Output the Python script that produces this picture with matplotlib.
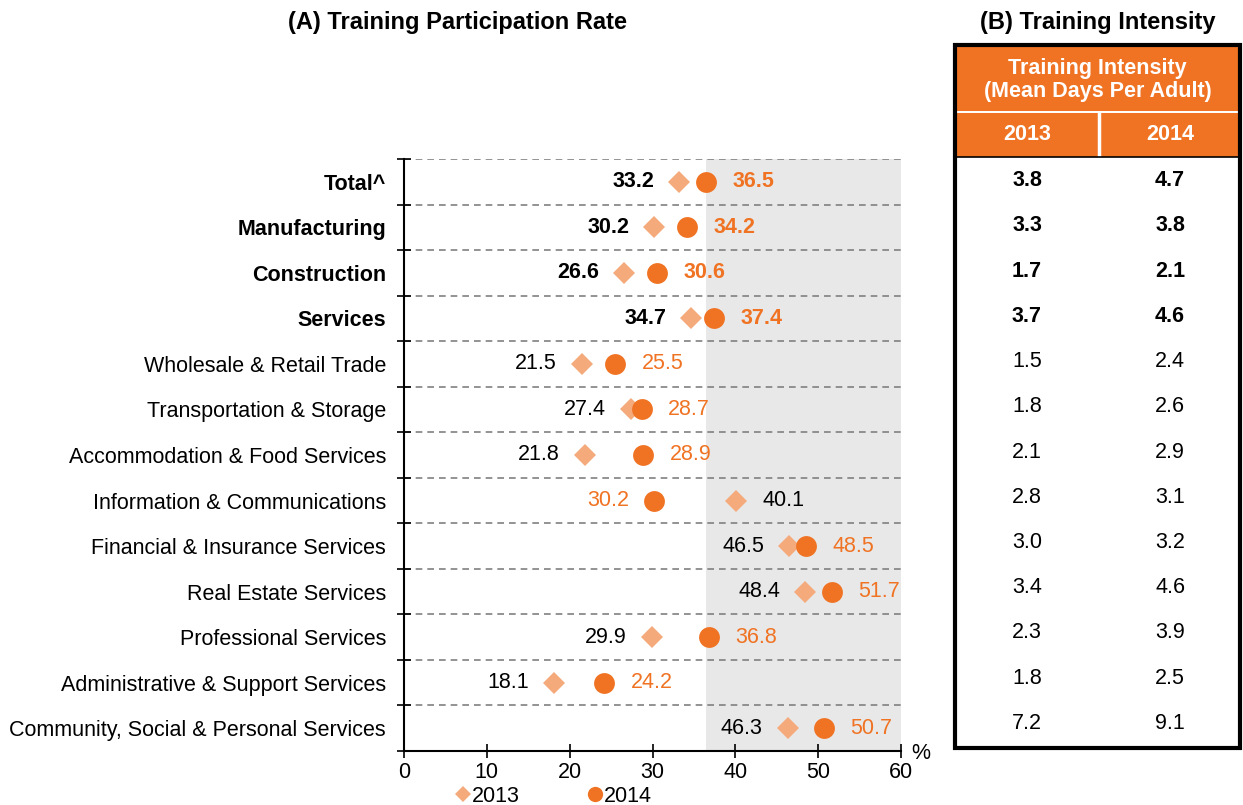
import matplotlib.pyplot as plt
from matplotlib.patches import Rectangle
from matplotlib.lines import Line2D

plt.rcParams['font.family'] = ['Liberation Sans', 'DejaVu Sans']

# ----------------------------
# Data
# ----------------------------
categories = [
    "Total^", "Manufacturing", "Construction", "Services",
    "Wholesale & Retail Trade", "Transportation & Storage",
    "Accommodation & Food Services", "Information & Communications",
    "Financial & Insurance Services", "Real Estate Services",
    "Professional Services", "Administrative & Support Services",
    "Community, Social & Personal Services",
]
rate_2013 = [33.2, 30.2, 26.6, 34.7, 21.5, 27.4, 21.8, 40.1, 46.5, 48.4, 29.9, 18.1, 46.3]
rate_2014 = [36.5, 34.2, 30.6, 37.4, 25.5, 28.7, 28.9, 30.2, 48.5, 51.7, 36.8, 24.2, 50.7]
intensity_2013 = [3.8, 3.3, 1.7, 3.7, 1.5, 1.8, 2.1, 2.8, 3.0, 3.4, 2.3, 1.8, 7.2]
intensity_2014 = [4.7, 3.8, 2.1, 4.6, 2.4, 2.6, 2.9, 3.1, 3.2, 4.6, 3.9, 2.5, 9.1]
bold_rows = 4
shade_from = 36.5

C13 = "#F5AA7C"
C14 = "#F07323"
FS = 15.5

W, H = 1243, 805
fig = plt.figure(figsize=(W / 100, H / 100), dpi=100)

# ----------------------------
# (A) Participation rate
# ----------------------------
ax = fig.add_axes([404 / W, 1 - 751 / H, (901 - 404) / W, (751 - 159) / H])
n = len(categories)
ys = list(range(n))

ax.axvspan(shade_from, 60, color="#E8E8E8", zorder=0, lw=0)
ax.plot(rate_2013, ys, ls="none", marker="D", ms=11, color=C13, mew=0, zorder=3)
ax.plot(rate_2014, ys, ls="none", marker="o", ms=15, color=C14, mew=0, zorder=4)

for i, (a, b) in enumerate(zip(rate_2013, rate_2014)):
    weight = "bold" if i < bold_rows else "normal"
    lo, hi = min(a, b), max(a, b)
    lo_col = "black" if a <= b else C14
    hi_col = C14 if a <= b else "black"
    ax.annotate(f"{lo:.1f}", (lo, i), xytext=(-18, 0), textcoords="offset points",
                ha="right", va="center", fontsize=FS, color=lo_col, weight=weight)
    ax.annotate(f"{hi:.1f}", (hi, i), xytext=(19, 0), textcoords="offset points",
                ha="left", va="center", fontsize=FS, color=hi_col, weight=weight)

ax.set_xlim(0, 60)
ax.set_ylim(n - 0.5, -0.5)
ax.set_xticks(range(0, 61, 10))
ax.set_yticks([i - 0.5 for i in range(n + 1)])
ax.set_yticklabels([])
ax.set_yticks(ys, minor=True)
ax.set_yticklabels(categories, minor=True)
for i, lab in enumerate(ax.get_yticklabels(minor=True)):
    if i < bold_rows:
        lab.set_fontweight("bold")
ax.tick_params(axis="y", which="minor", length=0, pad=13, labelsize=FS)
ax.tick_params(axis="y", which="major", direction="inout", length=10, width=1.2)
ax.tick_params(axis="x", direction="inout", length=10, width=1.2, labelsize=FS, pad=3)
ax.grid(axis="y", which="major", ls=(0, (4, 3)), color="#808080", lw=1.2)
ax.set_axisbelow(True)
for s in ("top", "right"):
    ax.spines[s].set_visible(False)
for s in ("left", "bottom"):
    ax.spines[s].set_linewidth(1.5)
ax.text(1.02, -0.005, "%", transform=ax.transAxes, fontsize=FS, ha="left", va="center")

handles = [
    Line2D([], [], ls="none", marker="D", ms=8, color=C13, mew=0, label="2013"),
    Line2D([], [], ls="none", marker="o", ms=11, color=C14, mew=0, label="2014"),
]
fig.legend(handles=handles, loc="center", bbox_to_anchor=(553 / W, 1 - 796 / H), ncol=2,
           frameon=False, fontsize=FS, handletextpad=0.0, columnspacing=3.1,
           handlelength=0.8, borderpad=0)

fig.text(457 / W, 1 - 23 / H, "(A) Training Participation Rate", ha="center", va="center",
         fontsize=17, weight="bold")

# ----------------------------
# (B) Intensity table
# ----------------------------
left, right, top, bottom = 955, 1240, 45, 748
tx = fig.add_axes([left / W, 1 - bottom / H, (right - left) / W, (bottom - top) / H])
tx.set_xlim(left, right)
tx.set_ylim(bottom, top)
tx.axis("off")

mid = 1099
tx.add_patch(Rectangle((left, top), right - left, 111 - top, color=C14, lw=0))
tx.add_patch(Rectangle((left, 113), right - left, 157 - 113, color=C14, lw=0))
tx.plot([mid, mid], [113, 157], color="white", lw=2.5)
tx.plot([left, right], [157, 157], color="black", lw=1.2)
tx.add_patch(Rectangle((left, top), right - left, bottom - top, fill=False,
                       ec="black", lw=3, clip_on=False))

tx.text((left + right) / 2, 80, "Training Intensity\n(Mean Days Per Adult)", color="white",
        ha="center", va="center", fontsize=FS, weight="bold", linespacing=1.1)
x13, x14 = 1027, 1170
tx.text(x13, 135, "2013", color="white", ha="center", va="center", fontsize=FS, weight="bold")
tx.text(x14, 135, "2014", color="white", ha="center", va="center", fontsize=FS, weight="bold")

row_h = (746 - 158) / n
for i, (a, b) in enumerate(zip(intensity_2013, intensity_2014)):
    yc = 158 + row_h * (i + 0.5)
    weight = "bold" if i < bold_rows else "normal"
    tx.text(x13, yc, f"{a:.1f}", ha="center", va="center", fontsize=FS, weight=weight)
    tx.text(x14, yc, f"{b:.1f}", ha="center", va="center", fontsize=FS, weight=weight)

fig.text(1098 / W, 1 - 23 / H, "(B) Training Intensity", ha="center", va="center",
         fontsize=17, weight="bold")

fig.savefig("out.png", dpi=100)
